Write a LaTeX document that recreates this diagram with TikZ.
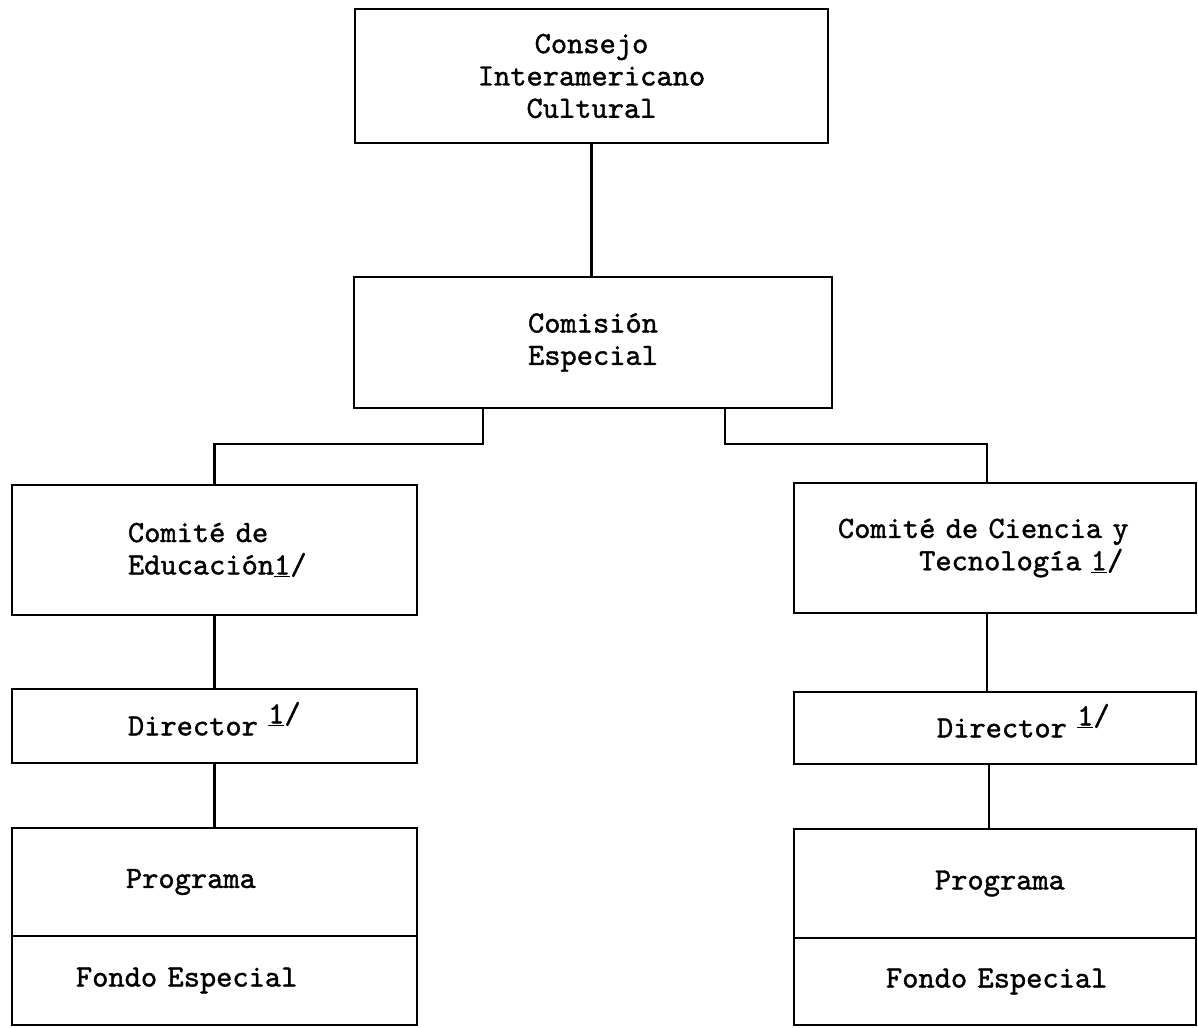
\documentclass[tikz,border=0pt]{standalone}
\usepackage{fontspec}
\usepackage{tikz}

\newfontfamily\typewriter{lmmono10-regular.otf}[FakeBold=1.2]
\newcommand{\fnote}{\underline{1}/}
\newcommand{\fnoteup}{\smash{\raisebox{0.9ex}{\fnote}}}

\begin{document}
\begin{tikzpicture}[
        x=0.025cm, y=-0.025cm,
        orgbox/.style={rectangle, draw=black, line width=1.8pt, inner sep=0pt, font=\typewriter\fontsize{22}{23}\selectfont},
        leftcol/.style={orgbox, minimum width=10.125cm, align=left},
        rightcol/.style={orgbox, minimum width=10.05cm, align=left},
        link/.style={line width=1.5pt},
    ]
        \useasboundingbox (0,0) rectangle (1198,1027);

        % top of the chart
        \node[orgbox, minimum width=11.825cm, minimum height=3.35cm, align=center] (consejo) at (591.5,76) {Consejo\\Interamericano\\Cultural};
        \node[orgbox, minimum width=11.95cm, minimum height=3.275cm, align=center] (comision) at (593,342.5) {Comisión\\Especial};

        % left column
        \node[leftcol, minimum height=3.25cm, text width=4.325cm] (educ) at (214.5,550) {Comité de\\\mbox{Educación\fnote}};
        \node[leftcol, minimum height=1.85cm, text width=4.325cm] (dirL) at (214.5,726) {\mbox{Director \fnoteup}};
        \node[leftcol, minimum height=2.7cm, text width=4.425cm] (progL) at (214.5,882) {Programa};
        \node[leftcol, minimum height=2.225cm, text width=6.925cm] (fondoL) at (214.5,980.5) {Fondo Especial};

        % right column
        \node[rightcol, minimum height=3.25cm, text width=7.85cm] (cien) at (995,548) {Comité de Ciencia y\\\mbox{\phantom{Comit}Tecnología\hspace{0.3em}\fnote}};
        \node[rightcol, minimum height=1.8cm, text width=2.9cm] (dirR) at (995,728) {\mbox{Director \fnoteup}};
        \node[rightcol, minimum height=2.725cm, text width=3.0cm] (progR) at (995,883.5) {\mbox{Programa}};
        \node[rightcol, minimum height=2.175cm, text width=5.45cm] (fondoR) at (995,981.5) {\mbox{Fondo Especial}};

        \coordinate (forkL) at (483,444);
        \coordinate (forkR) at (725,444);

        \draw[link] (consejo.south) -- (consejo.south |- comision.north);
        \draw[link] (forkL |- comision.south) -- (forkL) -| (educ.north);
        \draw[link] (forkR |- comision.south) -- (forkR) -| ([xshift=-0.2cm]cien.north);
        \draw[link] (educ) -- (dirL);
        \draw[link] (dirL) -- (progL);
        \draw[link] ([xshift=-0.2cm]cien.south) -- ([xshift=-0.2cm]dirR.north);
        \draw[link] ([xshift=-0.15cm]dirR.south) -- ([xshift=-0.15cm]progR.north);
    \end{tikzpicture}
\end{document}
